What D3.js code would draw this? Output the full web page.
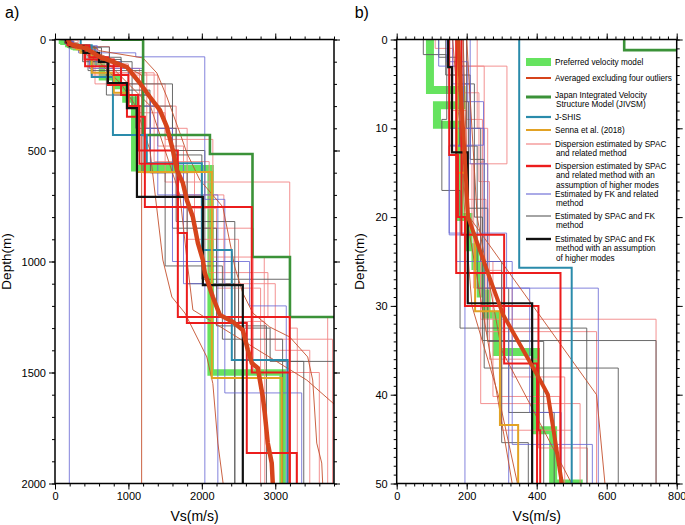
<!DOCTYPE html>
<html><head><meta charset="utf-8">
<script src="https://cdn.jsdelivr.net/npm/d3@7"></script>
<style>body{margin:0;background:#fff} text{font-family:"Liberation Sans",Arial,Helvetica,sans-serif}</style>
</head><body><svg id="c" width="685" height="525"></svg>
<script>
// ---------- tick labels ----------
const xTicksA = [0, 1000, 2000, 3000];
const yTicksA = [0, 500, 1000, 1500, 2000];
const xTicksB = [0, 200, 400, 600, 800];
const yTicksB = [0, 10, 20, 30, 40, 50];

// ---------- step profiles: [top depth (m), Vs (m/s)] ----------
const preferred = [[0,95],[5.7,185],[7.4,115],[9.6,180],[20,205],[23.4,225],[25.5,240],[28.6,257],[31,286],[35.2,398],[44,447],[50,520],[100,640],[170,850],[210,960],[270,1080],[580,2120],[1500,3100]];
const jivsm = [[0,650],[1.2,1200],[430,2110],[516,2690],[980,3200],[1250,4000]];
const jshis = [[0,350],[25.7,500],[169,789],[430,1250],[557,2000],[948,2408],[1444,3170]];
const senna = [[0,172],[15,200],[22,224],[30.6,295],[43.4,347],[60,500],[150,800],[240,1000],[300,1116],[597,2136],[1525,3088]];

const spacRelated = [
  [[0,110],[1,160],[3,250],[13.8,240],[31.5,741],[150,1250],[400,1800],[900,2500],[1270,2857]],
  [[0,160],[8,200],[18,255],[32.9,571],[110,1000],[300,1650],[700,2300],[1100,3000],[1400,3470]],
  [[0,180],[3,315],[14,215],[22,240],[41,524],[150,1350],[550,2100],[1050,2900],[1250,3714]],
  [[0,200],[9,245],[25,275],[40.2,466],[130,1150],[330,1500],[642,3197],[1300,3300]],
  [[0,170],[6,235],[16,265],[36,405],[46,545],[200,1500],[450,2150],[980,2850],[1350,3780]],
  [[0,150],[4,190],[14,220],[28,330],[38,480],[90,800],[250,1300],[600,1900],[850,2700],[1500,3600]],
  [[0,230],[10,260],[26,300],[44,500],[160,1400],[480,1750],[760,2200],[1120,2800]]
];
const spacHigher = [
  [[0,170],[26.3,468],[80,721],[205,980],[348,1224],[754,2680],[1250,3197]],
  [[0,185],[22,307],[36.5,401],[90,800],[160,1000],[300,1150],[560,1673],[872,1796],[1277,2612],[1863,3293]],
  [[0,150],[13,175],[20,195],[30,405],[44,410],[120,900],[250,1130],[500,1673],[1250,2680],[1500,3197]]
];
const fkRelated = [
  [[0,120],[3,190],[12,150],[22,195]],
  [[0,143],[2.5,203],[7,248],[11.9,150],[21.8,314],[28,576],[100,900],[250,1300],[560,1750],[1100,2041]],
  [[0,160],[5,210],[12,170],[25,330],[45.6,559],[120,1000],[300,1400],[700,2218]],
  [[0,150],[10,250],[30,320],[60,1100],[78,2040],[720,2313],[1592,3360]],
  [[0,210],[14,260],[28,380],[42,470],[130,1200],[400,1600],[1000,2650],[1200,3150]]
];
const spacFk = [
  [[0,76],[1.7,143],[9,129],[17,181],[32.5,543],[80,900],[250,1300],[600,1800],[1100,2449]],
  [[0,140],[4,210],[13.5,250],[37,633],[100,1050],[300,1600],[850,2200],[1290,2880]],
  [[0,180],[5,222],[20,245],[33.9,741],[120,1000],[228,1293],[500,2041],[1000,2500],[1300,2930],[1450,3388]],
  [[0,200],[10,240],[25,300],[45.4,376],[100,700],[250,1100],[400,1650],[820,2449]],
  [[0,120],[2,180],[12,230],[28,320],[42,450],[140,1200],[600,1500],[1020,2280],[1350,3100]],
  [[0,190],[7,205],[19,260],[34,420],[90,900],[200,1600],[520,2000],[1080,3200],[1450,3800]]
];
const spacFkHigher = [[0,147],[3.1,158],[12.7,203],[29.7,387],[60,600],[101,721],[196,980],[309,1116],[709,2014],[1106,2558]];

// ---------- gradient profiles: [depth (m), Vs (m/s)] ----------
const spacGradient = [
  [[0,200],[20,230],[35,300],[50,500],[100,850],[160,1180],[2000,1180]],
  [[0,160],[20,200],[50,330],[100,600],[200,900],[300,1100],[498,1293],[993,1469],[1160,1592],[1232,1769],[1340,1932],[1430,2068],[1550,2150],[1818,2218],[2000,2290]],
  [[0,190],[19.8,204],[40,571],[50,595],[83,1197],[151,1388],[259,1524],[421,1701],[511,1796],[633,1973],[754,2286],[1025,2449],[1142,2558],[1232,2694],[1295,2925],[1340,3197],[1430,3442],[1534,3510],[1818,3565],[1908,3633],[2000,3646]],
  [[0,170],[20,195],[30,215],[40,290],[50,345],[100,700],[300,1300],[700,1700],[1000,1800],[1218,1878],[1534,3429],[1700,4000]]
];
const averaged = [[0,175],[20,204],[27,267],[31,304],[38.3,409],[40,432],[50,472],[79,612],[124,980],[196,1156],[259,1293],[318,1429],[394,1524],[498,1605],[588,1660],[646,1741],[723,1796],[800,1878],[917,1946],[993,2014],[1052,2041],[1160,2150],[1241,2245],[1272,2422],[1309,2558],[1398,2626],[1457,2680],[1480,2762],[1610,2830],[1682,2857],[1818,2898],[1908,2952],[2000,2966]];

// ---------- legend ----------
const legendLabels = [
  ["Preferred velocity model"],
  ["Averaged excluding four outliers"],
  ["Japan Integrated Velocity","Structure Model (JIVSM)"],
  ["J-SHIS"],
  ["Senna et al. (2018)"],
  ["Dispersion estimated by SPAC","and related method"],
  ["Dispersion estimated by SPAC","and related method with an","assumption of higher modes"],
  ["Estimated by FK and related","method"],
  ["Estimated by SPAC and FK","method"],
  ["Estimated by SPAC and FK","method with an assumption","of higher modes"]
];

const C = {
  pref:"#66e35f", avg:"#d6441b", jivsm:"#3b9238", jshis:"#2a8bab", senna:"#e2a224",
  pink:"#f28686", red:"#ec1c1c", blue:"#6565d4", gray:"#5a5a5a", black:"#111111", brown:"#c4502e"
};

const svg = d3.select("#c");
const DMAX = 2000;

function stepPts(layers){
  const pts=[];
  layers.forEach((l,i)=>{
    const bot = i<layers.length-1 ? layers[i+1][0] : DMAX;
    pts.push([l[1],l[0]],[l[1],bot]);
  });
  return pts;
}
const gradPts = arr => arr.map(p=>[p[1],p[0]]);

const panels = [
  {id:"a", label:"a)", x:d3.scaleLinear([0,3800],[55,334]), y:d3.scaleLinear([0,2000],[39.5,483.5]),
   xMaj:xTicksA, xMin:d3.range(0,3801,200), yMaj:yTicksA, yMin:d3.range(0,2001,100), prefW:6.5, avgW:4.5, titleDx:44, labDx:50},
  {id:"b", label:"b)", x:d3.scaleLinear([0,800],[396.7,676.7]), y:d3.scaleLinear([0,50],[39.5,483.5]),
   xMaj:xTicksB, xMin:d3.range(0,801,25), yMaj:yTicksB, yMin:d3.range(0,51,1), prefW:8, avgW:4, titleDx:33, labDx:42}
];

panels.forEach(P=>{
  const [x0,x1]=P.x.range(), [y0,y1]=P.y.range();
  svg.append("clipPath").attr("id","clip"+P.id).append("rect")
    .attr("x",x0).attr("y",y0).attr("width",x1-x0).attr("height",y1-y0);
  const g = svg.append("g").attr("clip-path",`url(#clip${P.id})`);
  const line = d3.line().x(p=>P.x(p[0])).y(p=>P.y(p[1]));
  const draw = (pts,color,w,op=1)=>g.append("path").attr("d",line(pts)).attr("fill","none")
      .attr("stroke",color).attr("stroke-width",w).attr("stroke-opacity",op).attr("stroke-linejoin","miter");

  draw(stepPts(preferred),C.pref,P.prefW);
  spacRelated.forEach(p=>draw(stepPts(p),C.pink,1,0.9));
  spacFk.forEach(p=>draw(stepPts(p),C.gray,0.9));
  fkRelated.forEach(p=>draw(stepPts(p),C.blue,0.9,0.9));
  spacGradient.forEach(p=>draw(gradPts(p),C.brown,0.9));
  draw(stepPts(jivsm),C.jivsm,2.6);
  draw(stepPts(jshis),C.jshis,2);
  draw(stepPts(senna),C.senna,2);
  spacHigher.forEach(p=>draw(stepPts(p),C.red,2));
  draw(stepPts(spacFkHigher),C.black,2.2);
  draw(gradPts(averaged),C.avg,P.avgW);

  // axes
  const ax = svg.append("g");
  const fmt = d3.format("d");
  const styleAx = s=>{ s.select(".domain").remove(); s.selectAll("line").attr("stroke","#000").attr("stroke-width",1);
    s.selectAll("text").attr("font-family","Liberation Sans, Arial, sans-serif").attr("font-size",11).attr("fill","#000"); };
  ax.append("g").attr("transform",`translate(${x0},0)`).call(d3.axisLeft(P.y).tickValues(P.yMin).tickSize(3).tickFormat("")).call(styleAx);
  ax.append("g").attr("transform",`translate(${x0},0)`).call(d3.axisLeft(P.y).tickValues(P.yMaj).tickSize(6).tickPadding(3).tickFormat(fmt)).call(styleAx);
  ax.append("g").attr("transform",`translate(${x1},0)`).call(d3.axisRight(P.y).tickValues(P.yMin).tickSize(3).tickFormat("")).call(styleAx);
  ax.append("g").attr("transform",`translate(${x1},0)`).call(d3.axisRight(P.y).tickValues(P.yMaj).tickSize(6).tickFormat("")).call(styleAx);
  ax.append("g").attr("transform",`translate(0,${y1})`).call(d3.axisBottom(P.x).tickValues(P.xMin).tickSize(3).tickFormat("")).call(styleAx);
  ax.append("g").attr("transform",`translate(0,${y1})`).call(d3.axisBottom(P.x).tickValues(P.xMaj).tickSize(6).tickPadding(3).tickFormat(fmt)).call(styleAx);
  ax.append("g").attr("transform",`translate(0,${y0})`).call(d3.axisTop(P.x).tickValues(P.xMin).tickSize(3).tickFormat("")).call(styleAx);
  ax.append("g").attr("transform",`translate(0,${y0})`).call(d3.axisTop(P.x).tickValues(P.xMaj).tickSize(6).tickFormat("")).call(styleAx);
  ax.append("rect").attr("x",x0).attr("y",y0).attr("width",x1-x0).attr("height",y1-y0)
    .attr("fill","none").attr("stroke","#000").attr("stroke-width",1.5);

  svg.append("text").attr("x",(x0+x1)/2).attr("y",521).attr("text-anchor","middle").attr("font-size",14).text("Vs(m/s)");
  svg.append("text").attr("transform",`translate(${x0-P.titleDx},${(y0+y1)/2}) rotate(-90)`).attr("text-anchor","middle")
    .attr("font-size",13.5).text("Depth(m)");
  svg.append("text").attr("x",x0-P.labDx).attr("y",18).attr("font-size",16).text(P.label);
});

// legend
const styles = [
  [C.pref,8],[C.avg,2],[C.jivsm,3],[C.jshis,2.2],[C.senna,2],[C.pink,1.2],[C.red,2.4],[C.blue,1.1],[C.gray,1.1],[C.black,2.4]
];
const legY = [62,78,97,117,130,144,166,194,216,239];
const lg = svg.append("g");
legendLabels.forEach((lines,i)=>{
  lg.append("line").attr("x1",526).attr("x2",551).attr("y1",legY[i]).attr("y2",legY[i])
    .attr("stroke",styles[i][0]).attr("stroke-width",styles[i][1]);
  const first = i===2 ? legY[i]-2.5 : legY[i];
  lines.forEach((t,j)=>{
    lg.append("text").attr("transform",`translate(${j>0?556:555},${first+j*9.3+3})`)
      .attr("font-size",8.2).attr("textLength",null).text(t);
  });
});
</script></body></html>
